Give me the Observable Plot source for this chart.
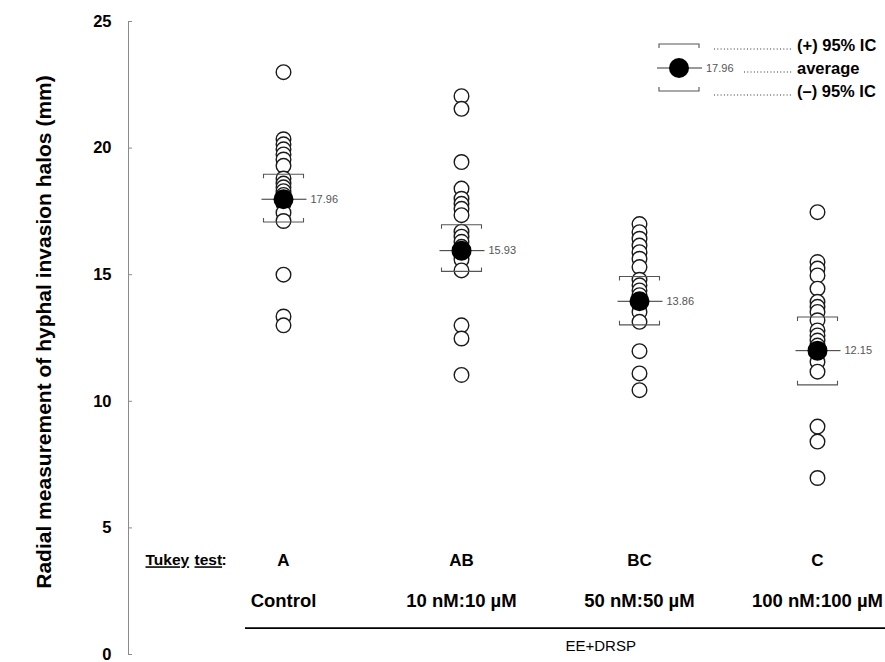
<!DOCTYPE html>
<html><head><meta charset="utf-8">
<script src="https://cdn.jsdelivr.net/npm/d3@7"></script>
<script src="https://cdn.jsdelivr.net/npm/@observablehq/plot@0.6"></script>
<style>
body{margin:0;background:#fff;font-family:"Liberation Sans",Arial,sans-serif;}
#wrap{position:relative;width:885px;height:662px;}
#legend{position:absolute;left:0;top:0;pointer-events:none;}
</style></head><body><div id="wrap"></div>
<script>
// ---- data ----
const groups = ["Control", "10 nM:10 µM", "50 nM:50 µM", "100 nM:100 µM"];
const tukey = ["A", "AB", "BC", "C"];
const means = [17.98, 15.95, 13.95, 12.0];
const meanLabels = ["17.96", "15.93", "13.86", "12.15"];
const ciUpper = [18.97, 16.97, 14.93, 13.33];
const ciLower = [17.08, 15.13, 13.02, 10.65];
const controlValues = [23.0, 20.35, 20.15, 19.95, 19.75, 19.55, 19.3, 18.8, 18.6, 18.45, 18.3, 18.15, 18.0, 17.8, 17.45, 17.12, 15.0, 13.35, 13.0];
const low10Values = [22.05, 21.55, 19.45, 18.4, 18.0, 17.8, 17.6, 17.35, 16.7, 16.5, 16.3, 16.1, 15.9, 15.6, 15.17, 13.0, 12.48, 11.04];
const mid50Values = [17.0, 16.68, 16.42, 16.15, 15.89, 15.63, 15.3, 14.8, 14.58, 14.38, 14.19, 14.0, 13.8, 13.53, 13.14, 11.98, 11.1, 10.44];
const high100Values = [17.47, 15.5, 15.24, 14.97, 14.45, 13.93, 13.73, 13.53, 13.2, 12.8, 12.6, 12.4, 12.2, 12.0, 11.56, 11.17, 9.0, 8.41, 6.97];
const yTicks = [0, 5, 10, 15, 20, 25];
const yTitle = "Radial measurement of hyphal invasion halos (mm)";
const groupTitle = "EE+DRSP";

// ---- tables ----
const seriesValues = [controlValues, low10Values, mid50Values, high100Values];
const points = seriesValues.flatMap((vals, i) =>
  vals.slice().sort((a, b) => b - a).map(v => ({group: groups[i], value: v})));
const stats = groups.map((g, i) => ({group: g, mean: means[i], label: meanLabels[i], hi: ciUpper[i], lo: ciLower[i], tukey: tukey[i]}));

// ---- layout ----
const W = 885, H = 662, ML = 128, MR = 0, MT = 21, MB = 8;
const firstCenter = 282, lastCenter = 818;
const step = (lastCenter - firstCenter) / (groups.length - 1);
const rowTukey = 3.72, rowGroup = 2.12, rowLine = 1.04, rowTitle = 0.34;
const FONT = "Liberation Sans, Arial, sans-serif";

// custom bracket symbols
const capTop = {draw(ctx) { ctx.moveTo(-20, 4); ctx.lineTo(-20, 0); ctx.lineTo(20, 0); ctx.lineTo(20, 4); }};
const capBottom = {draw(ctx) { ctx.moveTo(-20, -4); ctx.lineTo(-20, 0); ctx.lineTo(20, 0); ctx.lineTo(20, -4); }};
const meanBar = {draw(ctx) { ctx.moveTo(-22, 0); ctx.lineTo(23, 0); }};

const chart = Plot.plot({
  width: W, height: H,
  marginLeft: ML, marginRight: MR, marginTop: MT, marginBottom: MB,
  style: {fontFamily: FONT, background: "white", overflow: "visible"},
  x: {type: "band", domain: groups, range: [firstCenter - step / 2, lastCenter + step / 2], padding: 0, axis: null},
  y: {domain: [0, 25], axis: null},
  marks: [
    Plot.axisY(yTicks, {tickSize: 0, tickPadding: 17, fontWeight: "bold", fontSize: 16.5, fill: "#000", label: null}),
    Plot.frame({anchor: "left", stroke: "#8a8a8a"}),
    Plot.tickY(yTicks, {y: d => d, stroke: "#8a8a8a", insetRight: W - ML - MR - 4}),
    Plot.text([yTitle], {frameAnchor: "left", dx: -84, dy: -6, rotate: -90, textAnchor: "middle", fontSize: 21, fontWeight: "bold", fill: "#000"}),
    Plot.dot(points, {x: "group", y: "value", r: 7.3, fill: "white", stroke: "#1a1a1a", strokeWidth: 1.4}),
    Plot.dot(stats, {x: "group", y: "hi", symbol: capTop, fill: "none", stroke: "#555", strokeWidth: 1.1}),
    Plot.dot(stats, {x: "group", y: "lo", symbol: capBottom, fill: "none", stroke: "#555", strokeWidth: 1.1}),
    Plot.dot(stats, {x: "group", y: "mean", symbol: meanBar, fill: "none", stroke: "#333", strokeWidth: 1}),
    Plot.dot(stats, {x: "group", y: "mean", r: 10, fill: "#000", stroke: "none"}),
    Plot.text(stats, {x: "group", y: "mean", text: "label", dx: 27, textAnchor: "start", fontSize: 11, fill: "#555"}),
    Plot.text(stats, {x: "group", y: () => rowTukey, text: "tukey", fontSize: 17, fontWeight: "bold", fill: "#000"}),
    Plot.text(stats, {x: "group", y: () => rowGroup, text: "group", fontSize: 18.5, fontWeight: "bold", fill: "#000"}),
    Plot.text(["Tukey"], {frameAnchor: "left", y: () => rowTukey, dx: 17, textAnchor: "start", fontSize: 15.5, fontWeight: "bold", fill: "#000"}),
    Plot.text(["test"], {frameAnchor: "left", y: () => rowTukey, dx: 66, textAnchor: "start", fontSize: 15.5, fontWeight: "bold", fill: "#000"}),
    Plot.text([":"], {frameAnchor: "left", y: () => rowTukey, dx: 93, textAnchor: "start", fontSize: 15.5, fontWeight: "bold", fill: "#000"}),
    Plot.ruleY([rowLine], {stroke: "#000", strokeWidth: 1.6, insetLeft: 117}),
    Plot.text([groupTitle], {frameAnchor: "left", y: () => rowTitle, dx: (W - ML - MR + 117) / 2, fontSize: 15, fill: "#000"})
  ]
});
d3.select(chart).selectAll("text").filter(function() { return this.textContent === "Tukey" || this.textContent === "test"; })
  .style("text-decoration", "underline");
document.getElementById("wrap").appendChild(chart);

// ---- legend (top-right key) ----
const leg = d3.select("#wrap").append("svg").attr("id", "legend").attr("width", W).attr("height", 120);
const cx = 679, yTop = 44, yMid = 68, yBot = 91;
leg.append("path").attr("d", `M${cx-20},${yTop+4}V${yTop}H${cx+20}V${yTop+4}`).attr("fill", "none").attr("stroke", "#555").attr("stroke-width", 1.1);
leg.append("path").attr("d", `M${cx-20},${yBot-4}V${yBot}H${cx+20}V${yBot-4}`).attr("fill", "none").attr("stroke", "#555").attr("stroke-width", 1.1);
leg.append("line").attr("x1", cx - 22).attr("x2", cx + 23).attr("y1", yMid).attr("y2", yMid).attr("stroke", "#333");
leg.append("circle").attr("cx", cx).attr("cy", yMid).attr("r", 10).attr("fill", "#000");
leg.append("text").attr("x", cx + 27).attr("y", yMid).attr("dy", "0.35em").attr("font-size", 11).attr("fill", "#555").attr("font-family", FONT).text(meanLabels[0]);
const keyRows = [["(+) 95% IC", yTop + 1, 714], ["average", yMid, 744], ["(–) 95% IC", yBot, 714]];
keyRows.forEach(([t, y, x0]) => {
  leg.append("line").attr("x1", x0).attr("x2", 792).attr("y1", y + 4).attr("y2", y + 4)
    .attr("stroke", "#333").attr("stroke-width", 1.2).attr("stroke-dasharray", "1 2.3");
  leg.append("text").attr("x", 797).attr("y", y).attr("dy", "0.35em").attr("font-size", 16.5)
    .attr("font-weight", "bold").attr("font-family", FONT).attr("fill", "#000").text(t);
});
</script></body></html>
